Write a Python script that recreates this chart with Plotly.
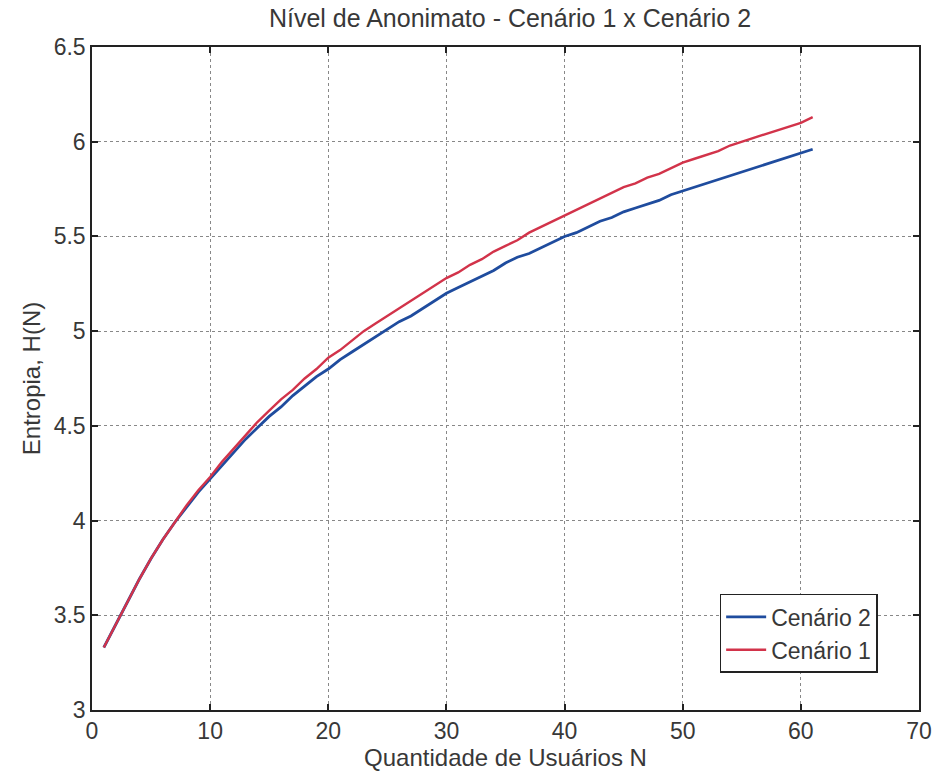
import plotly.graph_objects as go

N = list(range(1, 62))

cenario1 = [3.33, 3.45, 3.57, 3.69, 3.80, 3.90, 3.99, 4.08, 4.16, 4.23,
            4.31, 4.38, 4.45, 4.52, 4.58, 4.64, 4.69, 4.75, 4.80, 4.86,
            4.90, 4.95, 5.00, 5.04, 5.08, 5.12, 5.16, 5.20, 5.24, 5.28,
            5.31, 5.35, 5.38, 5.42, 5.45, 5.48, 5.52, 5.55, 5.58, 5.61,
            5.64, 5.67, 5.70, 5.73, 5.76, 5.78, 5.81, 5.83, 5.86, 5.89,
            5.91, 5.93, 5.95, 5.98, 6.00, 6.02, 6.04, 6.06, 6.08, 6.10, 6.13]

cenario2 = [3.33, 3.45, 3.57, 3.69, 3.80, 3.90, 3.99, 4.07, 4.15, 4.22,
            4.29, 4.36, 4.43, 4.49, 4.55, 4.60, 4.66, 4.71, 4.76, 4.80,
            4.85, 4.89, 4.93, 4.97, 5.01, 5.05, 5.08, 5.12, 5.16, 5.20,
            5.23, 5.26, 5.29, 5.32, 5.36, 5.39, 5.41, 5.44, 5.47, 5.50,
            5.52, 5.55, 5.58, 5.60, 5.63, 5.65, 5.67, 5.69, 5.72, 5.74,
            5.76, 5.78, 5.80, 5.82, 5.84, 5.86, 5.88, 5.90, 5.92, 5.94, 5.96]

x_ticks = [0, 10, 20, 30, 40, 50, 60, 70]
y_ticks = [3, 3.5, 4, 4.5, 5, 5.5, 6, 6.5]
y_tick_labels = ["3", "3.5", "4", "4.5", "5", "5.5", "6", "6.5"]

FONT = "Liberation Sans, Arial, sans-serif"
TXT = "#383838"

fig = go.Figure()
fig.add_trace(go.Scatter(x=N, y=cenario2, mode="lines", name="Cenário 2",
                         line=dict(color="#1f4c9e", width=2.8)))
fig.add_trace(go.Scatter(x=N, y=cenario1, mode="lines", name="Cenário 1",
                         line=dict(color="#d2334a", width=2.4)))

axis_common = dict(
    showline=True, linecolor="#222", linewidth=1.5, mirror="ticks",
    ticks="inside", ticklen=6, tickcolor="#222", tickwidth=1.5,
    showgrid=True, gridcolor="#888", griddash="dot", gridwidth=1,
    zeroline=False,
    tickfont=dict(family=FONT, size=23, color=TXT),
)

fig.update_layout(
    width=944, height=780,
    margin=dict(l=92, r=16, t=47, b=70),
    paper_bgcolor="white", plot_bgcolor="white",
    title=dict(text="Nível de Anonimato - Cenário 1 x Cenário 2",
               x=510 / 944, xanchor="center", y=1 - 18 / 780, yanchor="middle",
               font=dict(family=FONT, size=25, color=TXT)),
    xaxis=dict(range=[0, 70], tickvals=x_ticks,
               title=dict(text="Quantidade de Usuários N", standoff=4,
                          font=dict(family=FONT, size=24, color=TXT)),
               **axis_common),
    yaxis=dict(range=[3, 6.5], tickvals=y_ticks, ticktext=y_tick_labels,
               title=dict(text="Entropia, H(N)", standoff=6,
                          font=dict(family=FONT, size=24, color=TXT)),
               **axis_common),
    legend=dict(x=0.95, y=0.056, xanchor="right", yanchor="bottom",
                bordercolor="#222", borderwidth=1.5, bgcolor="white",
                itemwidth=40,
                font=dict(family=FONT, size=23, color=TXT)),
    showlegend=True,
)

fig.write_html("out.html")
